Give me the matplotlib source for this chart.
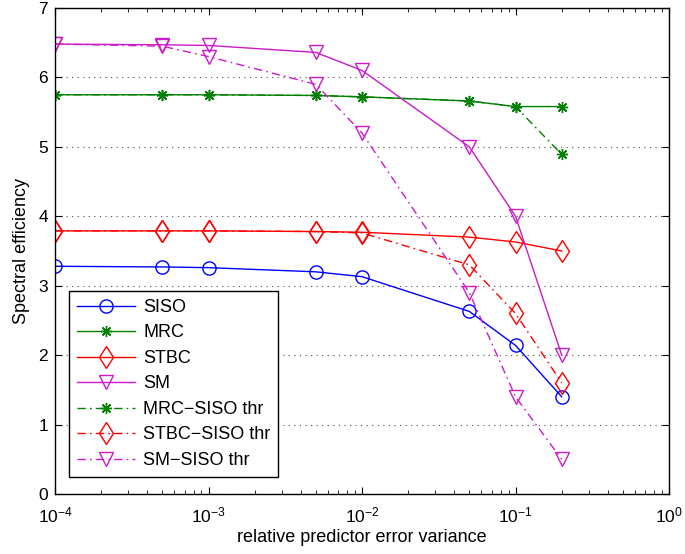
import numpy as np
import matplotlib
matplotlib.use("Agg")
import matplotlib.pyplot as plt
from matplotlib.ticker import LogLocator, NullFormatter

plt.rcParams['font.family'] = ['Liberation Sans', 'DejaVu Sans']

# relative predictor error variance
x = [1e-4, 5e-4, 1e-3, 5e-3, 1e-2, 5e-2, 1e-1, 2e-1]

siso = [3.28, 3.27, 3.26, 3.20, 3.13, 2.63, 2.14, 1.40]
mrc = [5.75, 5.75, 5.75, 5.74, 5.72, 5.66, 5.58, 5.58]
stbc = [3.79, 3.79, 3.79, 3.78, 3.77, 3.70, 3.63, 3.50]
sm = [6.48, 6.47, 6.46, 6.36, 6.10, 5.00, 4.00, 2.00]
mrc_thr = [5.75, 5.75, 5.75, 5.74, 5.72, 5.66, 5.58, 4.89]
stbc_thr = [3.79, 3.79, 3.79, 3.78, 3.76, 3.30, 2.60, 1.60]
sm_thr = [6.48, 6.45, 6.30, 5.90, 5.20, 2.90, 1.40, 0.50]

labels = ["SISO", "MRC", "STBC", "SM", "MRC\u2212SISO thr", "STBC\u2212SISO thr", "SM\u2212SISO thr"]

blue = (0, 0, 1)
green = (0, 0.5, 0)
red = (1, 0, 0)
magenta = (0.8, 0.1, 0.8)
star = (8, 2, 0)
dashdot = (0, (6, 3, 1.2, 3))

fig = plt.figure(figsize=(6.85, 5.54), dpi=100)
ax = fig.add_axes([0.0803, 0.1083, 0.8964, 0.8773])

kw = dict(lw=1.0, mfc='none', mew=1.0)
ax.plot(x, siso, '-', color=blue, marker='o', ms=9.5, label=labels[0], **kw)
ax.plot(x, mrc, '-', color=green, marker=star, ms=8, label=labels[1], **kw)
ax.plot(x, stbc, '-', color=red, marker='d', ms=11.5, label=labels[2], **kw)
ax.plot(x, sm, '-', color=magenta, marker='v', ms=9.5, label=labels[3], **kw)
ax.plot(x, mrc_thr, ls=dashdot, color=green, marker=star, ms=8, label=labels[4], **kw)
ax.plot(x, stbc_thr, ls=dashdot, color=red, marker='d', ms=11.5, label=labels[5], **kw)
ax.plot(x, sm_thr, ls=dashdot, color=magenta, marker='v', ms=9.5, label=labels[6], **kw)

ax.set_xscale('log')
ax.set_xlim(1e-4, 1)
ax.set_ylim(0, 7)
ax.set_yticks(range(8))
ax.xaxis.set_minor_locator(LogLocator(base=10, subs=np.arange(2, 10), numticks=20))
ax.xaxis.set_minor_formatter(NullFormatter())
ax.tick_params(which='both', direction='in', top=True, right=True, labelsize=12.5)
ax.tick_params(which='major', length=5)
ax.tick_params(which='minor', length=3)
ax.tick_params(axis='x', which='major', pad=8)
ax.tick_params(axis='y', which='major', pad=5)
ax.yaxis.grid(True, ls=(0, (1, 4)), color='0.3', lw=0.8)
ax.set_axisbelow(True)
for s in ax.spines.values():
    s.set_linewidth(1.0)

ax.set_xlabel("relative predictor error variance", fontsize=13, labelpad=3)
ax.set_ylabel("Spectral efficiency", fontsize=13, labelpad=6)

leg = ax.legend(loc='lower left', bbox_to_anchor=(0.0228, 0.035), borderaxespad=0,
                fontsize=13, fancybox=False, edgecolor='black', framealpha=1,
                handlelength=3.2, borderpad=0.45, labelspacing=0.47, handletextpad=0.45)
leg.get_frame().set_linewidth(1.0)

fig.savefig("out.png", dpi=100)
